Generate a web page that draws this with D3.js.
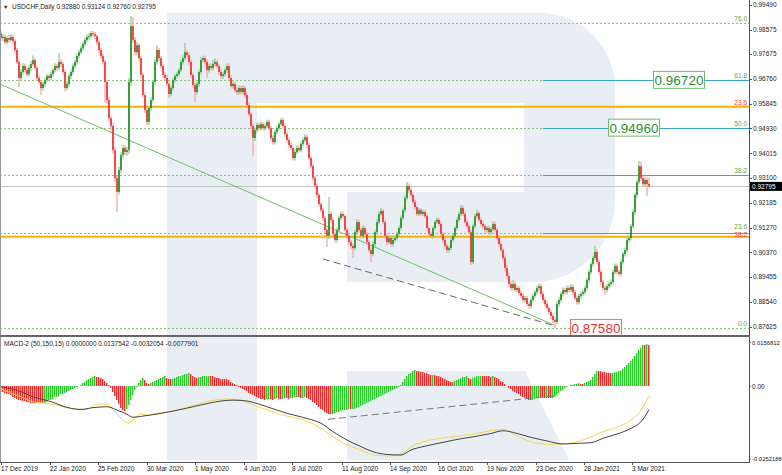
<!DOCTYPE html>
<html><head><meta charset="utf-8">
<script src="https://cdn.jsdelivr.net/npm/d3@7"></script>
<style>html,body{margin:0;padding:0;background:#fff;}svg{display:block;font-family:"Liberation Sans",Arial,sans-serif;}</style>
</head><body><svg id="c" width="782" height="475"></svg>
<script>
// ---------- DATA (prices in 1e-4 units, MACD in 1e-4 units) ----------
const symbol = "USDCHF,Daily";
const lastOHLC = ["0.92880","0.93124","0.92760","0.92795"];
const firstOpen = 9844;
const closes = [
9826,9830,9811,9826,9819,9830,9815,9782,9738,9679,
9701,9723,9708,9693,9716,9730,9745,9716,9679,9664,
9642,9657,9671,9686,9679,9693,9708,9723,9716,9738,
9730,9701,9642,9657,9686,9701,9723,9738,9760,9774,
9789,9804,9819,9830,9833,9844,9841,9833,9811,9782,
9760,9738,9664,9598,9531,9502,9413,9310,9259,9340,
9395,9421,9406,9413,9664,9870,9819,9774,9800,9752,
9690,9616,9561,9517,9568,9598,9664,9738,9782,9752,
9723,9690,9679,9657,9620,9642,9671,9686,9693,9708,
9738,9752,9774,9763,9738,9690,9653,9627,9657,9701,
9745,9752,9738,9708,9723,9716,9730,9738,9723,9701,
9686,9693,9708,9723,9679,9649,9657,9634,9627,9642,
9627,9642,9616,9579,9546,9502,9458,9487,9506,9494,
9509,9494,9502,9517,9494,9458,9443,9480,9494,9509,
9524,9502,9472,9450,9432,9421,9384,9406,9421,9413,
9436,9450,9461,9432,9384,9354,9310,9281,9248,9214,
9192,9163,9119,9097,9178,9156,9104,9082,9119,9163,
9178,9170,9119,9097,9074,9060,9052,9111,9148,9119,
9097,9126,9104,9074,9045,9030,9067,9111,9148,9178,
9189,9148,9097,9074,9089,9067,9082,9089,9104,9126,
9163,9192,9237,9281,9266,9248,9222,9203,9178,9192,
9178,9185,9170,9126,9104,9097,9126,9148,9156,9141,
9104,9082,9060,9045,9052,9082,9097,9126,9156,9178,
9200,9178,9148,9133,9111,9001,9133,9170,9181,9156,
9141,9133,9119,9126,9111,9122,9141,9119,9089,9067,
9045,9016,8979,8949,8920,8905,8920,8898,8905,8887,
8876,8861,8868,8846,8839,8861,8876,8890,8905,8912,
8883,8861,8846,8831,8817,8802,8787,8780,8846,8861,
8883,8898,8890,8905,8898,8909,8890,8868,8853,8876,
8883,8890,8905,8934,8964,8993,9016,9038,9001,8964,
8927,8905,8898,8912,8920,8927,8964,8986,8964,8957,
9001,9030,9045,9082,9089,9133,9185,9248,9296,9354,
9310,9288,9303,9288,9279.5];
const highs = [
9855,9841,9840,9834,9837,9840,9838,9822,9790,9745,
9712,9733,9731,9716,9725,9742,9763,9752,9724,9688,
9670,9665,9680,9695,9694,9703,9716,9733,9731,9771,
9748,9738,9710,9667,9694,9710,9732,9746,9768,9783,
9798,9813,9827,9840,9845,9852,9853,9848,9840,9820,
9790,9768,9745,9672,9608,9540,9512,9425,9320,9352,
9405,9432,9430,9425,9680,9907,9903,9830,9812,9808,
9760,9698,9625,9570,9575,9608,9672,9748,9800,9790,
9760,9731,9700,9688,9665,9650,9680,9694,9702,9717,
9746,9762,9808,9782,9772,9746,9698,9661,9665,9710,
9754,9762,9760,9747,9732,9732,9745,9752,9746,9731,
9712,9702,9716,9733,9731,9688,9666,9665,9643,9652,
9650,9652,9650,9625,9588,9555,9510,9496,9515,9514,
9518,9517,9511,9526,9524,9502,9467,9488,9503,9518,
9531,9532,9510,9481,9459,9441,9430,9415,9430,9430,
9445,9460,9472,9470,9440,9392,9362,9318,9290,9256,
9222,9200,9170,9128,9240,9188,9165,9112,9128,9172,
9187,9186,9178,9128,9106,9083,9068,9120,9158,9156,
9128,9135,9134,9112,9083,9054,9076,9120,9158,9187,
9200,9196,9156,9106,9098,9098,9090,9098,9112,9135,
9172,9201,9246,9296,9290,9275,9256,9231,9212,9201,
9200,9194,9194,9178,9134,9112,9134,9156,9165,9164,
9150,9112,9090,9068,9060,9090,9106,9134,9165,9187,
9211,9208,9186,9156,9142,9120,9140,9178,9192,9188,
9164,9150,9142,9134,9134,9130,9150,9150,9127,9098,
9075,9054,9025,8988,8958,8929,8935,8929,8914,8914,
8896,8884,8877,8876,8855,8869,8884,8898,8914,8922,
8920,8892,8870,8855,8840,8826,8811,8796,8855,8870,
8892,8908,8906,8914,8914,8920,8917,8898,8876,8885,
8892,8898,8914,8943,8972,9002,9025,9060,9046,9010,
8972,8935,8913,8920,8928,8936,8972,8995,8994,8972,
9010,9038,9054,9090,9098,9142,9194,9257,9305,9373,
9370,9318,9312,9312,9312.4];
const lows = [
9818,9815,9803,9804,9809,9812,9806,9770,9730,9646,
9668,9692,9698,9684,9685,9705,9722,9708,9670,9655,
9616,9633,9648,9662,9670,9671,9684,9699,9706,9708,
9720,9692,9630,9634,9648,9676,9692,9714,9729,9752,
9766,9780,9796,9810,9820,9825,9832,9822,9800,9770,
9750,9728,9590,9585,9520,9480,9400,9298,9185,9250,
9330,9385,9395,9392,9400,9650,9808,9763,9762,9742,
9680,9605,9550,9506,9508,9558,9590,9655,9728,9742,
9714,9680,9670,9648,9605,9611,9634,9662,9678,9684,
9700,9728,9744,9754,9728,9680,9644,9590,9618,9648,
9692,9736,9728,9679,9699,9706,9707,9720,9714,9690,
9676,9677,9684,9699,9670,9640,9640,9625,9618,9618,
9618,9618,9606,9570,9537,9492,9391,9448,9478,9485,
9486,9486,9485,9494,9486,9448,9434,9434,9472,9486,
9500,9494,9463,9441,9423,9412,9375,9375,9398,9404,
9404,9428,9441,9422,9375,9345,9300,9272,9238,9205,
9184,9154,9108,9056,9086,9146,9094,9072,9073,9110,
9154,9160,9110,9088,9064,9050,9016,9043,9102,9110,
9088,9088,9095,9065,9036,9001,9022,9058,9102,9140,
9170,9140,9088,9064,9066,9058,9058,9074,9080,9096,
9118,9155,9184,9228,9257,9240,9214,9194,9170,9170,
9170,9170,9162,9117,9096,9088,9088,9118,9140,9132,
9095,9073,9051,9034,9036,9044,9074,9088,9118,9148,
9170,9170,9140,9124,9102,8990,8993,9125,9162,9148,
9132,9124,9110,9110,9102,9102,9114,9110,9080,9058,
9036,9006,8970,8940,8910,8896,8896,8890,8889,8878,
8868,8852,8852,8838,8830,8830,8852,8868,8882,8896,
8874,8852,8836,8822,8808,8792,8776,8758,8772,8837,
8852,8874,8881,8881,8889,8889,8881,8859,8844,8844,
8866,8874,8882,8896,8925,8955,8984,9007,8992,8955,
8918,8896,8880,8889,8903,8911,8918,8955,8955,8948,
8948,8992,9021,9036,9073,9080,9124,9176,9239,9287,
9300,9278,9279,9244,9276];
// MACD-2 histogram
const macdHist = [
-18,-20,-22,-24,-27,-30,-34,-38,-42,-45,
-47,-49,-50,-52,-53,-54,-54,-55,-55,-55,
-56,-57,-54,-51,-47,-44,-41,-37,-34,-31,
-27,-24,-21,-18,-14,-11,-8,-5,-2,2,
6,10,15,20,24,28,32,33,31,30,
27,24,18,12,6,-5,-18,-32,-46,-60,
-72,-80,-82,-75,-62,-45,-28,-12,-3,12,
22,27,20,12,8,10,14,18,22,26,
29,31,33,28,25,24,26,28,31,33,
35,37,40,42,44,40,36,32,29,30,
31,33,34,35,36,36,33,31,29,27,
26,24,24,23,20,16,12,7,3,-1,
-5,-9,-13,-17,-21,-25,-29,-33,-37,-40,
-42,-43,-44,-43,-41,-42,-44,-42,-40,-41,
-43,-41,-39,-40,-42,-40,-38,-36,-35,-37,
-39,-38,-36,-38,-42,-46,-51,-56,-62,-68,
-74,-80,-85,-89,-92,-93,-91,-89,-86,-84,
-82,-80,-79,-78,-77,-77,-76,-74,-71,-68,
-65,-62,-59,-56,-53,-49,-46,-43,-40,-37,
-33,-30,-26,-22,-19,-15,-11,-8,-5,-2,
5,14,24,33,41,45,50,53,52,50,
48,47,46,44,42,38,39,37,36,35,
31,28,24,21,18,16,15,18,21,24,
27,30,32,33,28,24,27,30,33,35,
36,36,35,34,33,32,33,30,27,24,
19,14,7,0,-5,-10,-15,-19,-23,-27,
-31,-35,-39,-42,-45,-47,-44,-41,-38,-35,
-36,-38,-40,-38,-39,-40,-38,-34,-28,-22,
-16,-11,-6,-2,2,4,6,8,9,10,
9,8,11,14,17,22,32,42,52,51,
50,49,47,46,45,44,46,48,49,50,
51,58,64,70,77,84,92,100,110,120,
128,139,137,141,137.5];
const blackBars = [0,10,16,25,33,40,46,53,58,63,66,71,80,90,100,110,116,123,133,143,153,160,166,173,180,186,193,200,205,211,220,228,238,245,251,258,265,273,281,288,295,301,308,315,320,324];
const blackVals = [-1,-18,-35,-51,-70,-77,-71,-68,-79,-93,-103,-99,-90,-77,-62,-49,-46,-49,-68,-90,-107,-123,-151,-179,-201,-218,-227,-229,-212,-201,-188,-177,-166,-157,-148,-157,-170,-182,-192,-190,-188,-173,-159,-140,-118,-77.901];
const yellowBars = [0,5,10,16,21,30,36,43,48,53,57,61,64,66,70,73,78,86,95,103,113,120,126,133,143,153,160,166,173,180,186,193,200,205,211,220,228,238,245,251,258,265,273,281,288,295,301,308,315,320,324];
const yellowVals = [-7,-23,-35,-51,-55,-66,-75,-77,-59,-59,-85,-112,-123,-112,-92,-96,-90,-82,-66,-51,-42,-46,-62,-79,-99,-116,-140,-168,-196,-212,-229,-232,-226,-201,-185,-173,-166,-157,-148,-143,-166,-185,-193,-192,-185,-168,-151,-137,-112,-79,-32.054];
const macdTitle = "MACD-2 (50,150,15) 0.0000000 0.0137542 -0.0032054 -0.0077901";

const priceTicks = [0.99490,0.98575,0.97675,0.96760,0.95845,0.94930,0.94015,0.93100,0.92185,0.91270,0.90370,0.89455,0.88540,0.87625];
const macdTicks = [0.0156812,0,-0.0252188];
const macdTickLabels = ["0.0156812","0.00","-0.0252188"];
const dateLabels = ["17 Dec 2019","22 Jan 2020","25 Feb 2020","30 Mar 2020","1 May 2020","4 Jun 2020","8 Jul 2020","11 Aug 2020","14 Sep 2020","16 Oct 2020","19 Nov 2020","23 Dec 2020","28 Jan 2021","3 Mar 2021"];
const dateBars = [0,24.5,48.5,73,97,121.5,145.5,170.5,194.5,218.5,243,267.5,291.5,315.5];

// Fibonacci (green set) and second (orange) set
const fibLevels = ["76.0","61.8","50.0","38.2","23.6","0.0"];
const fibPrices = [0.98800,0.96720,0.94960,0.93220,0.91065,0.87580];
const fibSolid = [false,true,true,true,true,false];
const fibStartBar = 271;
const orangeLevels = ["23.6","38.2"];
const orangePrices = [0.95732,0.90942];
const currentPrice = 0.92795;
const boxTexts = ["0.96720","0.94960","0.87580"];
const boxPrices = [0.96720,0.94960,0.87580];
const boxBars = [326,303.5,284.5];
const greenTrendBars = [-0.5,277], greenTrendPrices = [0.96565,0.87670];
const dashTrendBars = [161,275.5], dashTrendPrices = [0.90118,0.87687];
const macdTrendBars = [163.5,277.5], macdTrendVals = [-0.0110,-0.0031];

// ---------- DRAW ----------
const P = v => v/10000;
const N = closes.length;
const opens = [firstOpen].concat(closes.slice(0,N-1)); // daily open = prior close
const bars = d3.range(N).map(i => ({i, o:P(opens[i]), h:P(highs[i]), l:P(lows[i]), c:P(closes[i])}));

const svg = d3.select('#c');
const AX = 749;
const x = d3.scaleLinear().domain([-0.5,324.5]).range([0,650]);
const y = d3.scaleLinear().domain([0.87625,0.99490]).range([326.7,4.7]);
const ym = d3.scaleLinear().domain([-0.0252188,0.0156812]).range([462,339.3]);

const defs = svg.append('defs');
defs.append('clipPath').attr('id','cm').append('rect').attr('x',0).attr('y',0).attr('width',AX).attr('height',335);
defs.append('clipPath').attr('id','cs').append('rect').attr('x',0).attr('y',338).attr('width',AX).attr('height',124);

// watermark logo
const wm = svg.append('g').attr('fill','#e9eef5');
wm.append('rect').attr('x',167).attr('y',13).attr('width',90).attr('height',447);
wm.append('path').attr('d','M257,13 H540 A75,75 0 0 1 615,88 V200 A82,82 0 0 1 533,282 H347 V192 H524 V103 H257 Z');
wm.append('path').attr('d','M347,371 H525 L569,460 H347 Z');

const gm = svg.append('g').attr('clip-path','url(#cm)');

// fib dotted full-width lines
gm.selectAll('.fd').data(fibPrices).enter().append('line')
  .attr('x1',0).attr('x2',AX).attr('y1',d=>Math.round(y(d))+0.5).attr('y2',d=>Math.round(y(d))+0.5)
  .attr('stroke','#8cc47a').attr('stroke-dasharray','2,2').attr('stroke-width',1);
gm.selectAll('.fs').data(fibPrices.filter((d,k)=>fibSolid[k])).enter().append('line')
  .attr('x1',x(fibStartBar)).attr('x2',AX).attr('y1',d=>Math.round(y(d))+0.5).attr('y2',d=>Math.round(y(d))+0.5)
  .attr('stroke','#3da6cc').attr('stroke-width',1);
// orange lines
gm.selectAll('.fo').data(orangePrices).enter().append('line')
  .attr('x1',0).attr('x2',AX).attr('y1',d=>y(d)).attr('y2',d=>y(d))
  .attr('stroke','#f5b400').attr('stroke-width',2);
// current price line
gm.append('line').attr('x1',0).attr('x2',AX).attr('y1',Math.round(y(currentPrice))+0.5).attr('y2',Math.round(y(currentPrice))+0.5)
  .attr('stroke','#c4c4c4').attr('stroke-width',1);
// trend lines
gm.append('line').attr('x1',x(greenTrendBars[0])).attr('y1',y(greenTrendPrices[0])).attr('x2',x(greenTrendBars[1])).attr('y2',y(greenTrendPrices[1]))
  .attr('stroke','#6cbf6c').attr('stroke-width',1);
gm.append('line').attr('x1',x(dashTrendBars[0])).attr('y1',y(dashTrendPrices[0])).attr('x2',x(dashTrendBars[1])).attr('y2',y(dashTrendPrices[1]))
  .attr('stroke','#666').attr('stroke-width',1).attr('stroke-dasharray','7,4');

// candles
const cg = gm.append('g');
cg.selectAll('.w').data(bars).enter().append('line')
  .attr('x1',d=>x(d.i)).attr('x2',d=>x(d.i))
  .attr('y1',d=>y(Math.max(d.h,d.o,d.c))).attr('y2',d=>y(Math.min(d.l,d.o,d.c)))
  .attr('stroke',d=>d.c>=d.o?'#86c886':'#f5a0a0').attr('stroke-width',1.2);
cg.selectAll('.b').data(bars).enter().append('rect')
  .attr('x',d=>x(d.i)-0.8).attr('width',1.6)
  .attr('y',d=>y(Math.max(d.o,d.c)))
  .attr('height',d=>Math.max(1,y(Math.min(d.o,d.c))-y(Math.max(d.o,d.c))))
  .attr('fill',d=>d.c>=d.o?'#1d8f1d':'#f42a2a');

// fib labels (green 23.6 and red 38.2 sit stacked where the two lines meet)
const lab = svg.append('g').attr('font-size',6.5);
lab.selectAll('.fl').data(fibLevels).enter().append('text')
  .attr('x',747).attr('y',(d,k)=>y(fibPrices[k]) - (k===4?4.2:2)).attr('text-anchor','end').attr('fill','#62a84a').text(d=>d);
lab.selectAll('.ol').data(orangeLevels).enter().append('text')
  .attr('x',747).attr('y',(d,k)=>y(orangePrices[k]) + (k===1?0.8:-1.5)).attr('text-anchor','end').attr('fill','#ff3c3c').text(d=>d);

// price boxes
const boxColors = ['#2d8f2d','#2d8f2d','#f03030'];
boxTexts.forEach((t,k)=>{
  const bx = x(boxBars[k]), by = y(boxPrices[k]);
  const g = svg.append('g');
  g.append('rect').attr('x',bx+0.5).attr('y',by-8.5).attr('width',51).attr('height',17)
    .attr('fill','#fff').attr('stroke',k===2?'#f07070':'#6fb86f').attr('stroke-width',1);
  g.append('text').attr('x',bx+26).attr('y',by+5).attr('text-anchor','middle')
    .attr('font-size',13.5).attr('fill',boxColors[k]).text(t);
});

// MACD panel
const gs = svg.append('g').attr('clip-path','url(#cs)');
const up = (d,i) => i===0 || d>macdHist[i-1];
const hg = gs.append('g').attr('shape-rendering','crispEdges');
hg.selectAll('.hl').data(macdHist).enter().append('rect')
  .attr('x',(d,i)=>x(i)-1).attr('width',2)
  .attr('y',d=>ym(Math.max(0,P(d))))
  .attr('height',d=>Math.abs(ym(P(d))-ym(0)))
  .attr('fill',(d,i)=> up(d,i) ? '#a6e6a6' : '#fbaaaa');
hg.selectAll('.hs').data(macdHist).enter().append('rect')
  .attr('x',(d,i)=>x(i)-1).attr('width',1)
  .attr('y',d=>ym(Math.max(0,P(d))))
  .attr('height',d=>Math.abs(ym(P(d))-ym(0)))
  .attr('fill',(d,i)=> up(d,i) ? '#2ec82e' : '#f42a2a');
const lineGen = d3.line().x(d=>x(d[0])).y(d=>ym(P(d[1]))).curve(d3.curveMonotoneX);
gs.append('path').attr('d',lineGen(yellowBars.map((b,k)=>[b,yellowVals[k]])))
  .attr('fill','none').attr('stroke','#f2d64a').attr('stroke-width',1);
gs.append('path').attr('d',lineGen(blackBars.map((b,k)=>[b,blackVals[k]])))
  .attr('fill','none').attr('stroke','#444').attr('stroke-width',1);
gs.append('line').attr('x1',x(macdTrendBars[0])).attr('y1',ym(macdTrendVals[0])).attr('x2',x(macdTrendBars[1])).attr('y2',ym(macdTrendVals[1]))
  .attr('stroke','#777').attr('stroke-width',1).attr('stroke-dasharray','7,4');

// frame
svg.append('line').attr('x1',0.5).attr('x2',0.5).attr('y1',0).attr('y2',462).attr('stroke','#999');
svg.append('line').attr('x1',AX+0.5).attr('x2',AX+0.5).attr('y1',0).attr('y2',463).attr('stroke','#555');
svg.append('line').attr('x1',0).attr('x2',AX+1).attr('y1',336).attr('y2',336).attr('stroke','#666').attr('stroke-width',2);
svg.append('line').attr('x1',0).attr('x2',AX+1).attr('y1',462.5).attr('y2',462.5).attr('stroke','#555');

// texts
const tx = svg.append('g').attr('font-size',6.5).attr('fill','#222');
tx.append('text').attr('x',3).attr('y',8.5).attr('font-size',5.5).text('▼');
tx.append('text').attr('x',12).attr('y',8.5).text(symbol+'  '+lastOHLC.join(' '));
tx.append('text').attr('x',4).attr('y',345.5).text(macdTitle);

// price axis
tx.selectAll('.pt').data(priceTicks).enter().append('text')
  .attr('x',753).attr('y',d=>y(d)+2.3).text(d=>d.toFixed(5));
svg.selectAll('.ptk').data(priceTicks).enter().append('line')
  .attr('x1',AX).attr('x2',AX+3).attr('y1',d=>Math.round(y(d))+0.5).attr('y2',d=>Math.round(y(d))+0.5).attr('stroke','#555');
// current price tag
svg.append('rect').attr('x',750).attr('y',y(currentPrice)-4.5).attr('width',32).attr('height',9).attr('fill','#000');
svg.append('text').attr('x',752).attr('y',y(currentPrice)+2.3).attr('font-size',6.5).attr('fill','#fff').text(currentPrice.toFixed(5));

// macd axis
const mty = d => Math.min(459,Math.max(342.5,ym(d)));
tx.selectAll('.mt').data(macdTicks).enter().append('text')
  .attr('x',752).attr('y',d=>mty(d)+2.2).attr('font-size',(d,k)=>macdTickLabels[k].length>6?5.9:6.5).text((d,k)=>macdTickLabels[k]);
svg.selectAll('.mtk').data(macdTicks).enter().append('line')
  .attr('x1',AX).attr('x2',AX+2).attr('y1',d=>mty(d)).attr('y2',d=>mty(d)).attr('stroke','#555');

// date axis
tx.selectAll('.dt').data(dateLabels).enter().append('text')
  .attr('x',(d,k)=>x(dateBars[k])).attr('y',470.5).text(d=>d);
svg.selectAll('.dtk').data(dateBars).enter().append('line')
  .attr('x1',d=>Math.round(x(d))+0.5).attr('x2',d=>Math.round(x(d))+0.5).attr('y1',462).attr('y2',465).attr('stroke','#555');
</script></body></html>
